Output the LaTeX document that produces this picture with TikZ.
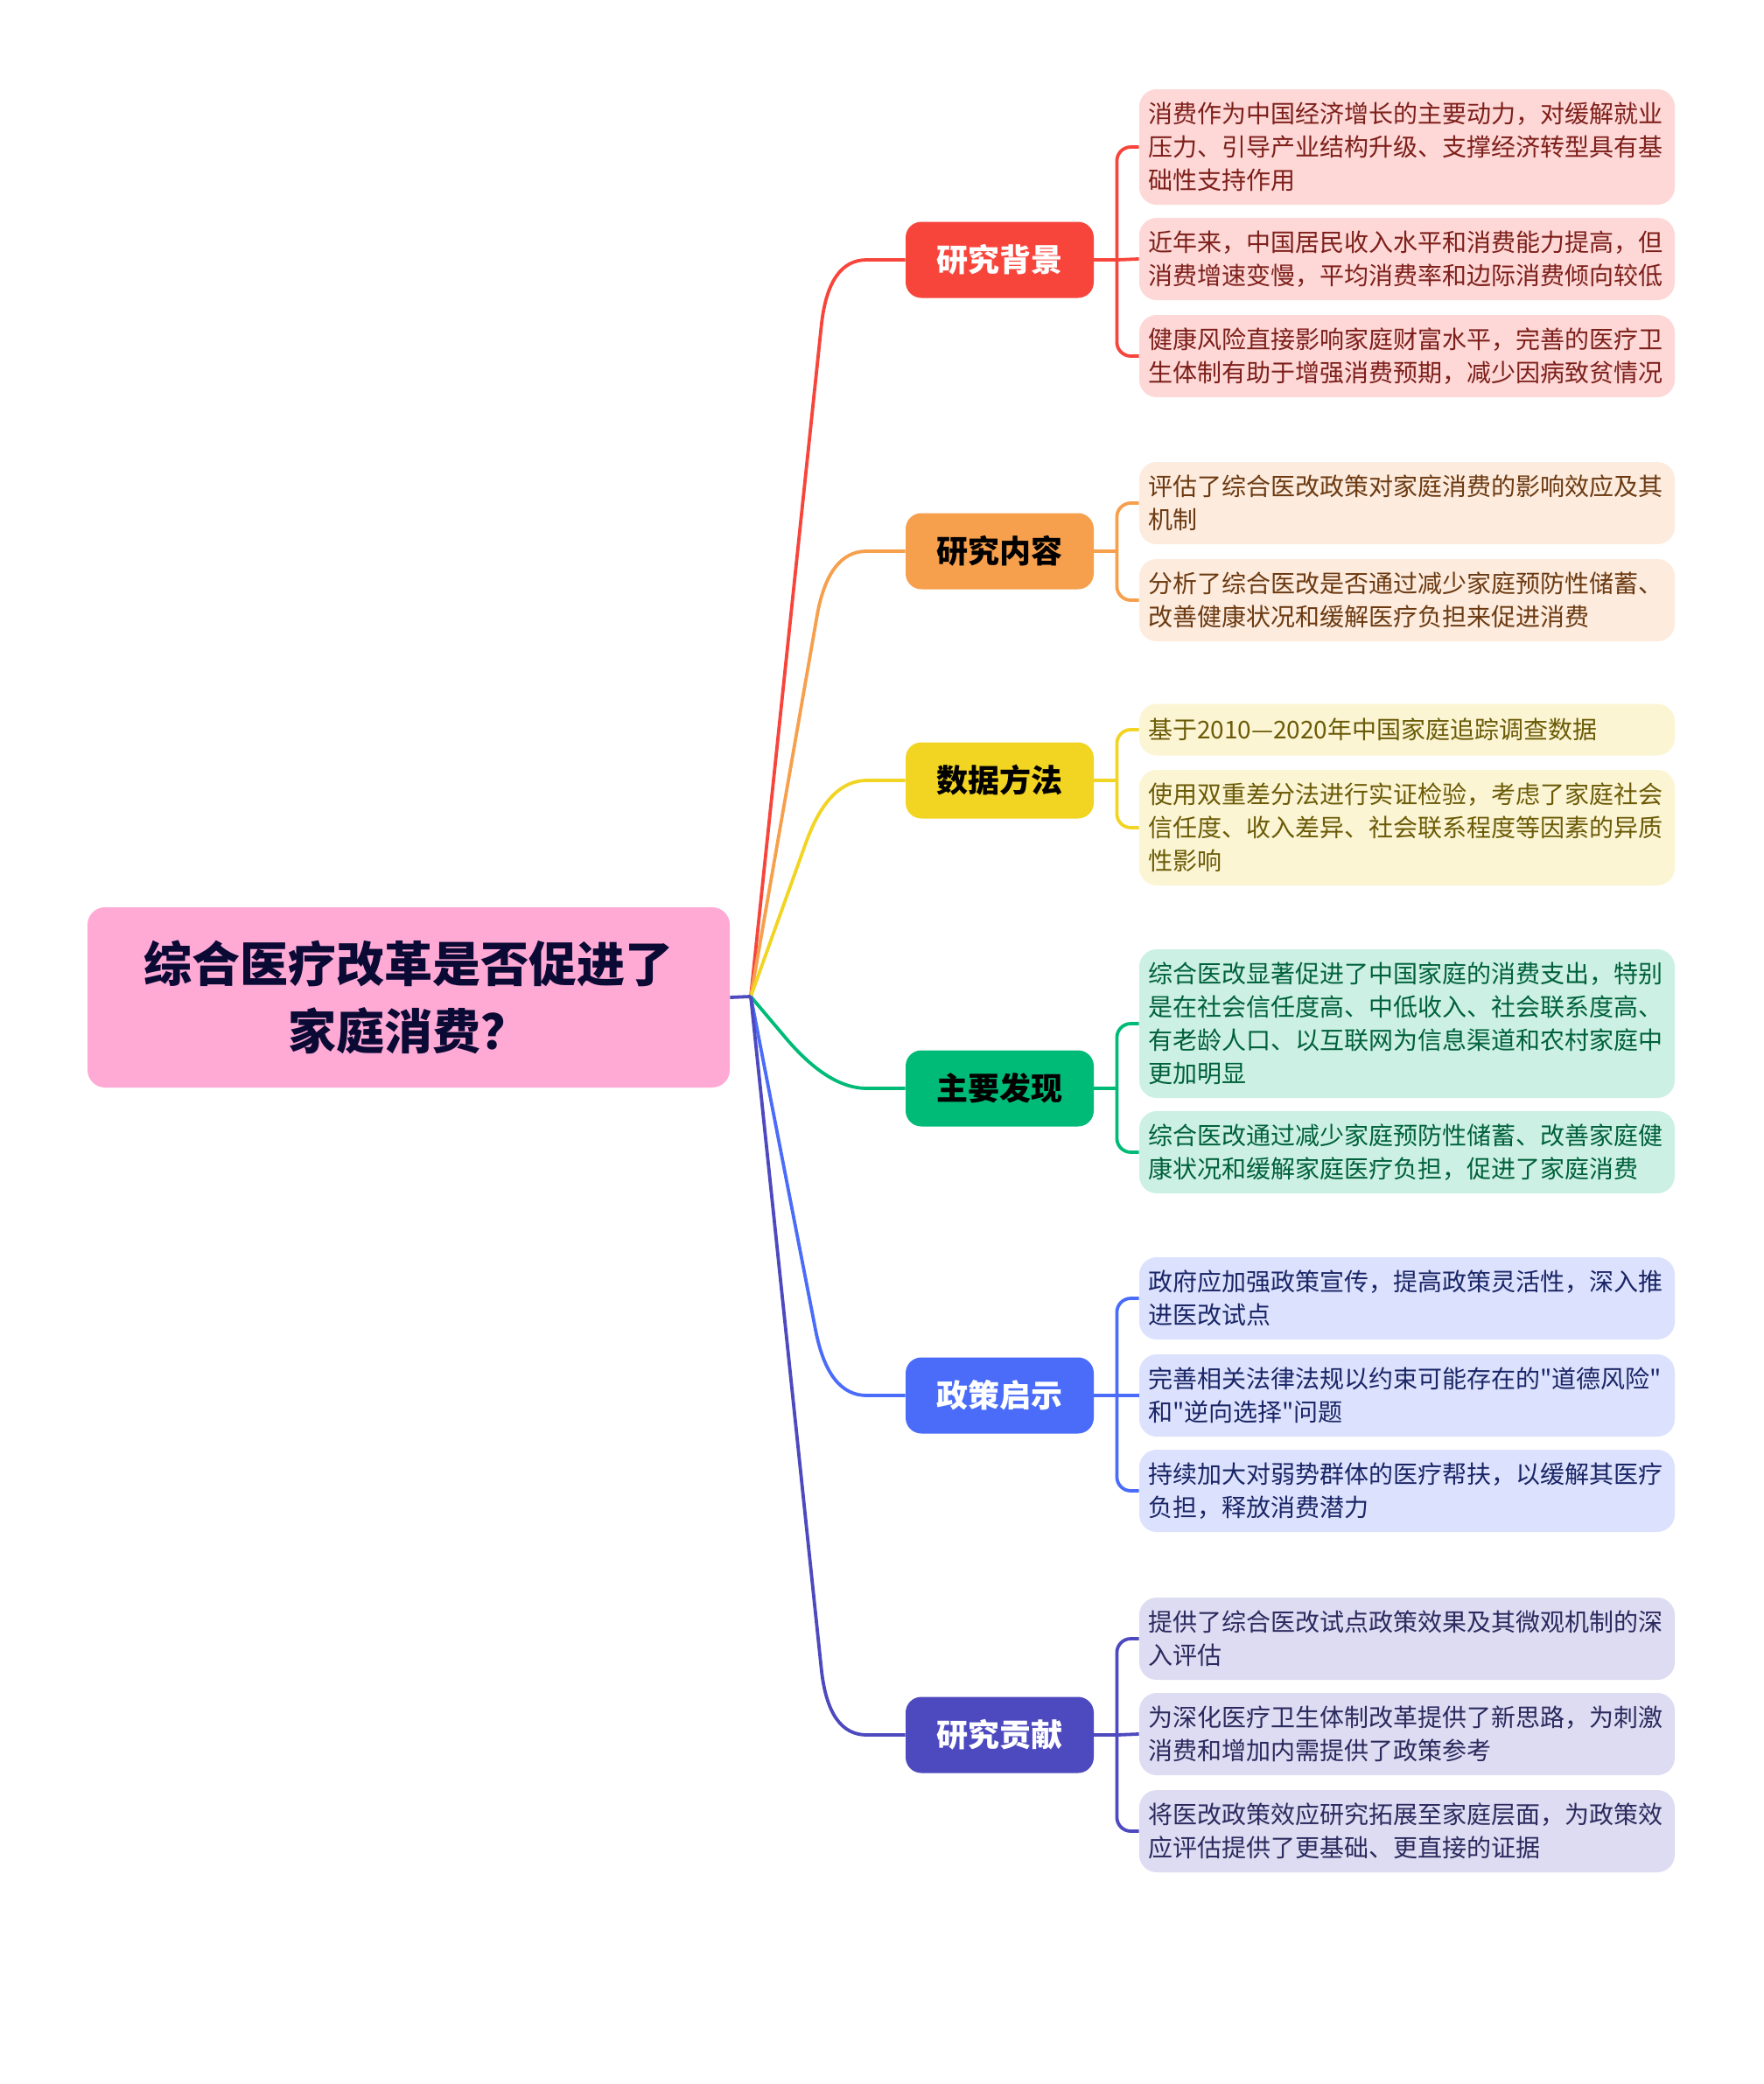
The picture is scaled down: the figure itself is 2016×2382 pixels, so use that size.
\documentclass[tikz,border=0pt]{standalone}
\usepackage{fontspec}
\setmainfont{Noto Sans CJK SC}[Ligatures=TeXOff]
\usetikzlibrary{calc}
\definecolor{rootfill}{HTML}{FFA9D5}
\definecolor{roottext}{HTML}{0A0A35}
\definecolor{cRed}{HTML}{F7453C}
\definecolor{cOrange}{HTML}{F6A04D}
\definecolor{cYellow}{HTML}{F2D422}
\definecolor{cGreen}{HTML}{00BB77}
\definecolor{cBlue}{HTML}{4A6CF8}
\definecolor{cPurple}{HTML}{4D49BE}
\definecolor{lRed}{HTML}{FDD8D7}
\definecolor{lOrange}{HTML}{FDEBDD}
\definecolor{lYellow}{HTML}{FCF5D3}
\definecolor{lGreen}{HTML}{CCF1E4}
\definecolor{lBlue}{HTML}{DCE2FD}
\definecolor{lPurple}{HTML}{DDDCF2}
\definecolor{tRed}{HTML}{7D1F1A}
\definecolor{tOrange}{HTML}{6B3A12}
\definecolor{tYellow}{HTML}{6B5B08}
\definecolor{tGreen}{HTML}{00603C}
\definecolor{tBlue}{HTML}{1A2566}
\definecolor{tPurple}{HTML}{2B2A5E}
\tikzset{
  conn/.style={line width=1.9pt},
  leafbox/.style={rounded corners=10pt, inner xsep=5pt, inner ysep=0pt,
    text width=296pt, align=left, font=\fontsize{14}{19}\selectfont},
  branchbox/.style={rounded corners=9pt, minimum width=107.5pt,
    minimum height=43.5pt, inner sep=0pt,
    font=\fontsize{18}{18}\selectfont\bfseries},
  rootbox/.style={rounded corners=10pt, minimum width=367pt,
    minimum height=103pt, inner sep=0pt, align=center,
    font=\fontsize{27.5}{38.5}\selectfont\bfseries}
}
\newcommand\mmcurve[2]{%
  \path (#1.west) ++(-44pt,0) coordinate (#1c) ++(22pt,0) coordinate (#1e);
  \path ($(#1c)!38pt!(H)$) coordinate (#1p);
  \draw[conn,#2] (H) -- (#1p) .. controls ($(#1p)!0.667!(#1c)$) and ($(#1e)!0.667!(#1c)$) .. (#1e) -- (#1.west);
}
\newcommand\mmjunction[2]{%
  \coordinate (#1j) at ($(#1.east)+(13pt,0)$);
  \draw[conn,#2] (#1.east) -- (#1j);
}
\newcommand\mmleaf[3]{%
  \draw[conn,#3,rounded corners=8pt] (#1j) |- (#2.west);
}
\begin{document}
\begin{tikzpicture}[x=0.5pt,y=-0.5pt]
\useasboundingbox[fill=white] (0,0) rectangle (2016,2382);

% root
\node[rootbox, fill=rootfill, text=roottext] (root) at (467,1140)
  {综合医疗改革是否促进了\\家庭消费？};
\coordinate (H) at (858,1139);

% branches
\node[branchbox, fill=cRed, text=white] (b1) at (1142.5,297) {研究背景};
\node[branchbox, fill=cOrange, text=black] (b2) at (1142.5,630) {研究内容};
\node[branchbox, fill=cYellow, text=black] (b3) at (1142.5,892) {数据方法};
\node[branchbox, fill=cGreen, text=black] (b4) at (1142.5,1244) {主要发现};
\node[branchbox, fill=cBlue, text=white] (b5) at (1142.5,1595) {政策启示};
\node[branchbox, fill=cPurple, text=white] (b6) at (1142.5,1983) {研究贡献};

% leaves group 1
\node[leafbox, fill=lRed, text=tRed, minimum height=66pt] (l1a) at (1608,168)
  {消费作为中国经济增长的主要动力，对缓解就业\\压力、引导产业结构升级、支撑经济转型具有基\\础性支持作用};
\node[leafbox, fill=lRed, text=tRed, minimum height=47pt] (l1b) at (1608,296)
  {近年来，中国居民收入水平和消费能力提高，但\\消费增速变慢，平均消费率和边际消费倾向较低};
\node[leafbox, fill=lRed, text=tRed, minimum height=47pt] (l1c) at (1608,407)
  {健康风险直接影响家庭财富水平，完善的医疗卫\\生体制有助于增强消费预期，减少因病致贫情况};
% group 2
\node[leafbox, fill=lOrange, text=tOrange, minimum height=47pt] (l2a) at (1608,575)
  {评估了综合医改政策对家庭消费的影响效应及其\\机制};
\node[leafbox, fill=lOrange, text=tOrange, minimum height=47pt] (l2b) at (1608,686)
  {分析了综合医改是否通过减少家庭预防性储蓄、\\改善健康状况和缓解医疗负担来促进消费};
% group 3
\node[leafbox, fill=lYellow, text=tYellow, minimum height=29.5pt] (l3a) at (1608,834)
  {基于2010—2020年中国家庭追踪调查数据};
\node[leafbox, fill=lYellow, text=tYellow, minimum height=66pt] (l3b) at (1608,946)
  {使用双重差分法进行实证检验，考虑了家庭社会\\信任度、收入差异、社会联系程度等因素的异质\\性影响};
% group 4
\node[leafbox, fill=lGreen, text=tGreen, minimum height=85pt] (l4a) at (1608,1170)
  {综合医改显著促进了中国家庭的消费支出，特别\\是在社会信任度高、中低收入、社会联系度高、\\有老龄人口、以互联网为信息渠道和农村家庭中\\更加明显};
\node[leafbox, fill=lGreen, text=tGreen, minimum height=47pt] (l4b) at (1608,1317)
  {综合医改通过减少家庭预防性储蓄、改善家庭健\\康状况和缓解家庭医疗负担，促进了家庭消费};
% group 5
\node[leafbox, fill=lBlue, text=tBlue, minimum height=47pt] (l5a) at (1608,1484)
  {政府应加强政策宣传，提高政策灵活性，深入推\\进医改试点};
\node[leafbox, fill=lBlue, text=tBlue, minimum height=47pt] (l5b) at (1608,1595)
  {完善相关法律法规以约束可能存在的"道德风险"\\和"逆向选择"问题};
\node[leafbox, fill=lBlue, text=tBlue, minimum height=47pt] (l5c) at (1608,1704)
  {持续加大对弱势群体的医疗帮扶，以缓解其医疗\\负担，释放消费潜力};
% group 6
\node[leafbox, fill=lPurple, text=tPurple, minimum height=47pt] (l6a) at (1608,1873)
  {提供了综合医改试点政策效果及其微观机制的深\\入评估};
\node[leafbox, fill=lPurple, text=tPurple, minimum height=47pt] (l6b) at (1608,1982)
  {为深化医疗卫生体制改革提供了新思路，为刺激\\消费和增加内需提供了政策参考};
\node[leafbox, fill=lPurple, text=tPurple, minimum height=47pt] (l6c) at (1608,2093)
  {将医改政策效应研究拓展至家庭层面，为政策效\\应评估提供了更基础、更直接的证据};

% main connectors
\mmcurve{b1}{cRed}
\mmcurve{b2}{cOrange}
\mmcurve{b3}{cYellow}
\mmcurve{b4}{cGreen}
\mmcurve{b5}{cBlue}
\mmcurve{b6}{cPurple}
\draw[conn,cPurple] (root.east) -- (H);

% leaf brackets
\mmjunction{b1}{cRed}
\mmleaf{b1}{l1a}{cRed}
\draw[conn,cRed] (b1j) -- (l1b.west);
\mmleaf{b1}{l1c}{cRed}

\mmjunction{b2}{cOrange}
\mmleaf{b2}{l2a}{cOrange}
\mmleaf{b2}{l2b}{cOrange}

\mmjunction{b3}{cYellow}
\mmleaf{b3}{l3a}{cYellow}
\mmleaf{b3}{l3b}{cYellow}

\mmjunction{b4}{cGreen}
\mmleaf{b4}{l4a}{cGreen}
\mmleaf{b4}{l4b}{cGreen}

\mmjunction{b5}{cBlue}
\mmleaf{b5}{l5a}{cBlue}
\draw[conn,cBlue] (b5j) -- (l5b.west);
\mmleaf{b5}{l5c}{cBlue}

\mmjunction{b6}{cPurple}
\mmleaf{b6}{l6a}{cPurple}
\draw[conn,cPurple] (b6j) -- (l6b.west);
\mmleaf{b6}{l6c}{cPurple}
\end{tikzpicture}
\end{document}
